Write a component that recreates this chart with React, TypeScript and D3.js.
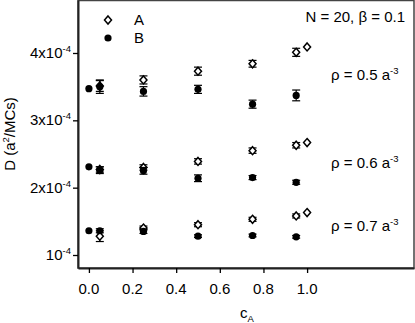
import React, { useEffect, useRef } from "react";
import * as d3 from "d3";

// D in units of 1e-4 a^2/MCs
const cA_A = [0.05, 0.25, 0.5, 0.75, 0.95, 1.0];
const cA_B = [0.0, 0.05, 0.25, 0.5, 0.75, 0.95];

const A_rho05 = [3.51, 3.6, 3.73, 3.84, 4.01, 4.09];
const errA_rho05 = [0.08, 0.06, 0.06, 0.05, 0.06, 0];
const B_rho05 = [3.47, 3.5, 3.43, 3.46, 3.24, 3.37];
const errB_rho05 = [0, 0.1, 0.07, 0.06, 0.06, 0.08];

const A_rho06 = [2.27, 2.3, 2.39, 2.55, 2.63, 2.67];
const errA_rho06 = [0.04, 0.04, 0.04, 0.04, 0.04, 0];
const B_rho06 = [2.31, 2.26, 2.25, 2.14, 2.15, 2.08];
const errB_rho06 = [0, 0.05, 0.05, 0.05, 0.03, 0.03];

const A_rho07 = [1.28, 1.4, 1.45, 1.53, 1.58, 1.63];
const errA_rho07 = [0.08, 0.03, 0.03, 0.03, 0.03, 0];
const B_rho07 = [1.36, 1.36, 1.35, 1.28, 1.29, 1.27];
const errB_rho07 = [0, 0.03, 0.03, 0.02, 0.02, 0.02];

const xTicks = [0, 0.2, 0.4, 0.6, 0.8, 1.0];
const yTicks = [1, 2, 3, 4];
const yTickPrefix = ["", "2x", "3x", "4x"];
const rhoLabels = ["0.5", "0.6", "0.7"];
const rhoLabelY = [3.67, 2.37, 1.43];

function App() {
  const svgRef = useRef(null);

  useEffect(() => {
    const width = 415;
    const height = 323;
    const left = 78, right = 414, top = 0.5, bottom = 268;
    const font = "Liberation Sans, Arial, Helvetica, sans-serif";
    const fs = 15;

    const svg = d3.select(svgRef.current);
    svg.selectAll("*").remove();
    svg.attr("width", width).attr("height", height);

    const x = d3.scaleLinear().domain([-0.05, 1.49]).range([left, right]);
    const y = d3.scaleLinear().domain([0.807, 4.787]).range([bottom, 0]);

    svg.append("rect").attr("width", width).attr("height", height).attr("fill", "white");

    // frame
    svg
      .append("rect")
      .attr("x", left)
      .attr("y", top)
      .attr("width", right - left)
      .attr("height", bottom - top)
      .attr("fill", "none")
      .attr("stroke", "#444")
      .attr("stroke-width", 1.5);

    // axes
    const xAxis = svg
      .append("g")
      .attr("transform", `translate(0,${bottom})`)
      .call(d3.axisBottom(x).tickValues(xTicks).tickSize(5).tickSizeOuter(0).tickFormat(() => ""));
    xAxis.select(".domain").attr("stroke", "#222").attr("stroke-width", 2);
    xAxis.selectAll(".tick line").attr("stroke-width", 1.3);

    const yAxis = svg
      .append("g")
      .attr("transform", `translate(${left},0)`)
      .call(d3.axisLeft(y).tickValues(yTicks).tickSize(5).tickSizeOuter(0).tickFormat(() => ""));
    yAxis.select(".domain").attr("stroke", "#222").attr("stroke-width", 2);
    yAxis.selectAll(".tick line").attr("stroke-width", 1.3);

    // x tick labels
    svg
      .append("g")
      .selectAll("text")
      .data(xTicks)
      .join("text")
      .attr("x", (d) => x(d))
      .attr("y", 294)
      .attr("text-anchor", "middle")
      .attr("font-family", font)
      .attr("font-size", fs)
      .text((d) => d3.format(".1f")(d));

    // y tick labels
    const yl = svg
      .append("g")
      .selectAll("text")
      .data(yTicks)
      .join("text")
      .attr("x", 71)
      .attr("y", (d) => y(d) + 5)
      .attr("text-anchor", "end")
      .attr("font-family", font)
      .attr("font-size", fs);
    yl.append("tspan").text((d, i) => yTickPrefix[i] + "10");
    yl.append("tspan").attr("dy", -6).attr("font-size", 9.5).text("-4");

    // axis titles
    const yt = svg
      .append("text")
      .attr("transform", "translate(15,134) rotate(-90)")
      .attr("text-anchor", "middle")
      .attr("font-family", font)
      .attr("font-size", fs);
    yt.append("tspan").text("D (a");
    yt.append("tspan").attr("dy", -6).attr("font-size", 9.5).text("2");
    yt.append("tspan").attr("dy", 6).text("/MCs)");

    const xt = svg
      .append("text")
      .attr("x", 240)
      .attr("y", 318)
      .attr("font-family", font)
      .attr("font-size", fs);
    xt.append("tspan").text("c");
    xt.append("tspan").attr("dy", 4).attr("font-size", 9.5).text("A");

    // annotations
    svg
      .append("text")
      .attr("x", 405)
      .attr("y", 22)
      .attr("text-anchor", "end")
      .attr("font-family", font)
      .attr("font-size", fs)
      .text("N = 20, \u03b2 = 0.1");

    rhoLabels.forEach((r, i) => {
      const t = svg
        .append("text")
        .attr("x", 331)
        .attr("y", y(rhoLabelY[i]) + 5)
        .attr("font-family", font)
        .attr("font-size", fs);
      t.append("tspan").text(`\u03c1 = ${r} a`);
      t.append("tspan").attr("dy", -6).attr("font-size", 9.5).text("-3");
    });

    const diamond = (cx: number, cy: number) =>
      `M${cx},${cy - 4}L${cx + 3.5},${cy}L${cx},${cy + 4}L${cx - 3.5},${cy}Z`;

    const drawSeries = (xs: number[], vals: number[], errs: number[], kind: string) => {
      const g = svg.append("g");
      xs.forEach((xv, i) => {
        const cx = x(xv);
        const e = errs[i];
        if (e > 0) {
          const y0 = y(vals[i] - e), y1 = y(vals[i] + e);
          g.append("line").attr("x1", cx).attr("x2", cx).attr("y1", y0).attr("y2", y1)
            .attr("stroke", "black").attr("stroke-width", 1.2);
          [y0, y1].forEach((yy) =>
            g.append("line").attr("x1", cx - 4).attr("x2", cx + 4).attr("y1", yy).attr("y2", yy)
              .attr("stroke", "black").attr("stroke-width", 1.2)
          );
        }
        if (kind === "A") {
          g.append("path").attr("d", diamond(cx, y(vals[i])))
            .attr("fill", "white").attr("stroke", "black").attr("stroke-width", 1.5);
        } else {
          g.append("circle").attr("cx", cx).attr("cy", y(vals[i])).attr("r", 3.6).attr("fill", "black");
        }
      });
    };

    drawSeries(cA_A, A_rho05, errA_rho05, "A");
    drawSeries(cA_A, A_rho06, errA_rho06, "A");
    drawSeries(cA_A, A_rho07, errA_rho07, "A");
    drawSeries(cA_B, B_rho05, errB_rho05, "B");
    drawSeries(cA_B, B_rho06, errB_rho06, "B");
    drawSeries(cA_B, B_rho07, errB_rho07, "B");

    // legend
    svg.append("path").attr("d", diamond(108, 20))
      .attr("fill", "white").attr("stroke", "black").attr("stroke-width", 1.5);
    svg.append("circle").attr("cx", 108).attr("cy", 38).attr("r", 3.6).attr("fill", "black");
    svg.append("text").attr("x", 134).attr("y", 25).attr("font-family", font).attr("font-size", fs).text("A");
    svg.append("text").attr("x", 134).attr("y", 43).attr("font-family", font).attr("font-size", fs).text("B");
  }, []);

  return (
    <svg ref={svgRef} style={{ position: "absolute", left: 0, top: 0, display: "block" }}></svg>
  );
}

export default App;
